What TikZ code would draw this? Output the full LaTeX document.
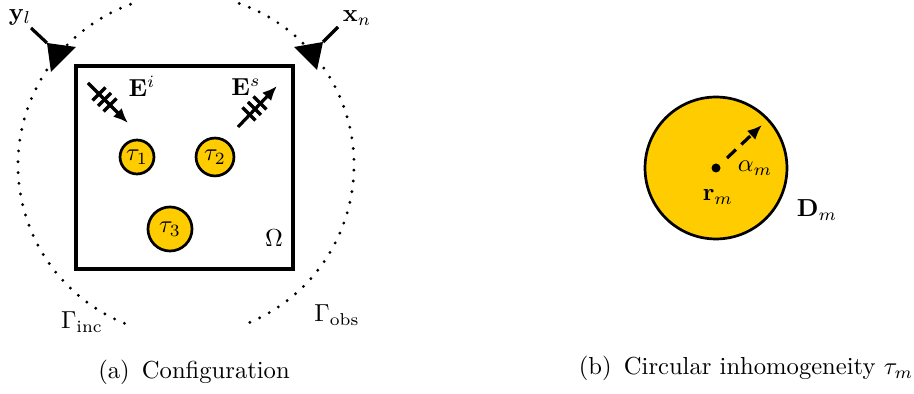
\documentclass[tikz,border=0pt]{standalone}
\usepackage{amsmath}
\usetikzlibrary{arrows.meta}

\definecolor{gold}{RGB}{255,204,0}

\begin{document}
\begin{tikzpicture}[x=0.4065pt, y=0.4065pt,
  inhom/.style={circle, draw, line width=1.1pt, fill=gold, inner sep=0pt},
  obsdots/.style={line width=1.3pt, line cap=round, dash pattern=on 0pt off 4.4pt},
  thick line/.style={line width=1.3pt},
  wave/.style={thick line, -{Latex[length=6pt,width=5pt]}}]

  \useasboundingbox (0,0) rectangle (914,394);

  \coordinate (ylEnd) at (31,366);
  \coordinate (ylApex) at (47,351);
  \coordinate (ylA) at (76,347);
  \coordinate (ylB) at (51,322);
  \coordinate (xnEnd) at (338,367);
  \coordinate (xnApex) at (323,352);
  \coordinate (xnA) at (294,347);
  \coordinate (xnB) at (317,324);

  % domain Omega
  \draw[line width=1.4pt] (76,328) rectangle (293,125);
  \node (Om) at (274,156) {$\Omega$};

  % scatterers
  \node[inhom, minimum size=13.8pt] (tau1) at (137,237) {$\tau_1$};
  \node[inhom, minimum size=15.4pt] (tau2) at (215,237) {$\tau_2$};
  \node[inhom, minimum size=17.9pt] (tau3) at (170,165) {$\tau_3$};

  % incident and scattered waves
  \coordinate (ei0) at (88,311);
  \coordinate (ei1) at (128,271);
  \coordinate (es0) at (238,267);
  \coordinate (es1) at (277,308);
  \draw[wave] (ei0) -- (ei1);
  \draw[wave] (es0) -- (es1);
  \foreach \d in {0,5.5,11} {
    \draw[thick line] (99+\d-6.5,300-\d-6.5) -- (99+\d+6.5,300-\d+6.5);
    \draw[thick line] (249+\d-6.5,280+\d+6.5) -- (249+\d+6.5,280+\d-6.5);
  }
  \node (Ei) at (142,308) {$\mathbf{E}^i$};
  \node (Es) at (246,307) {$\mathbf{E}^s$};

  % incidence and observation curves
  \draw[obsdots] (189,229) ++(110:171) arc[start angle=110, end angle=250, radius=171];
  \draw[obsdots] (183,229) ++(-67:171) arc[start angle=-67, end angle=73, radius=171];
  \node (Ginc) at (82,72) {$\Gamma_{\text{inc}}$};
  \node (Gobs) at (337,79) {$\Gamma_{\text{obs}}$};

  % source and receiver
  \draw[thick line] (ylEnd) -- (ylApex);
  \fill (ylApex) -- (ylA) -- (ylB) -- cycle;
  \draw[thick line] (xnEnd) -- (xnApex);
  \fill (xnApex) -- (xnA) -- (xnB) -- cycle;
  \node (yl) at (20,377) {$\mathbf{y}_l$};
  \node (xn) at (357,376) {$\mathbf{x}_n$};

  % single inhomogeneity
  \node[inhom, minimum size=57.7pt] (Dm) at (716,226) {};
  \fill (Dm.center) circle (4.5);
  \coordinate (rad) at (762,269);
  \draw[thick line, dash pattern=on 5pt off 3pt, -{Latex[length=6pt,width=5pt]}] (727,236) -- (rad);
  \node (alpha) at (755,226) {$\alpha_m$};
  \node (rm) at (718,197) {$\mathbf{r}_m$};
  \node (DmLab) at (817,184) {$\mathbf{D}_m$};

  % captions
  \node[anchor=base] (capA) at (194,15) {(a)\, Configuration};
  \node[anchor=base] (capB) at (746,19) {(b)\, Circular inhomogeneity $\tau_m$};

\end{tikzpicture}
\end{document}
